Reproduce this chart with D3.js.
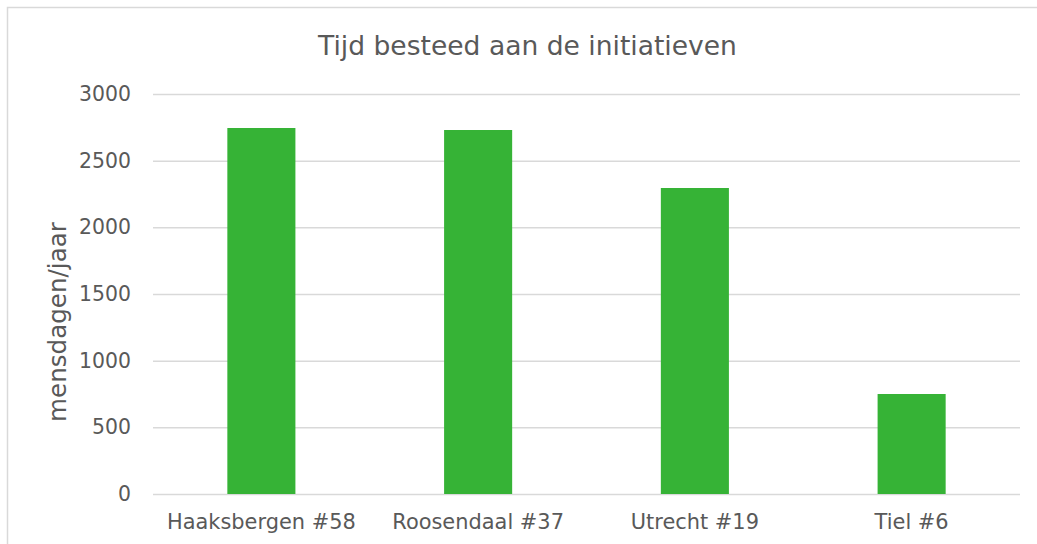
<!DOCTYPE html>
<html><head><meta charset="utf-8">
<script src="https://cdn.jsdelivr.net/npm/d3@7"></script>
<style>body{margin:0;background:#fff;} svg{display:block;}</style>
</head><body>
<script>
const categories = ["Haaksbergen #58", "Roosendaal #37", "Utrecht #19", "Tiel #6"];
const values = [2745, 2730, 2295, 750];
const yTicks = [0, 500, 1000, 1500, 2000, 2500, 3000];
const title = "Tijd besteed aan de initiatieven";
const yLabel = "mensdagen/jaar";

(function () {
const W = 1037, H = 544;
const font = "DejaVu Sans, Verdana, sans-serif";
const textColor = "#595959";
const svg = d3.select("body").append("svg").attr("width", W).attr("height", H);

// fit a font size so that a sample string has the target width
function fitSize(sample, targetWidth) {
  const t = svg.append("text").style("font-family", font).style("font-size", "20px").text(sample);
  const w = t.node().getComputedTextLength();
  t.remove();
  return 20 * targetWidth / w;
}
const tickSize = fitSize("3000", 52);
const catSize = fitSize(categories[0], 189);
const titleSize = fitSize(title, 419);
const ylabSize = fitSize(yLabel, 200);

svg.append("rect").attr("x", 7.5).attr("y", 7.5).attr("width", W + 10).attr("height", H + 10)
  .attr("fill", "#fff").attr("stroke", "#d9d9d9").attr("stroke-width", 1.5);

const pLeft = 153, pRight = 1020, pTop = 94, pBottom = 494;
const x = d3.scaleBand().domain(categories).range([pLeft, pRight]).paddingInner(0.686).paddingOuter(0.343);
const y = d3.scaleLinear().domain([0, 3000]).range([pBottom, pTop]);

const yAxis = svg.append("g").attr("transform", `translate(${pLeft},0)`)
  .call(d3.axisLeft(y).tickValues(yTicks).tickFormat(d3.format("d")).tickSize(-(pRight - pLeft)).tickPadding(22));
yAxis.select(".domain").remove();
yAxis.selectAll(".tick line").attr("stroke", "#d9d9d9").attr("stroke-width", 1.5);
yAxis.selectAll(".tick text").attr("fill", textColor).style("font-family", font).style("font-size", tickSize + "px");

svg.append("g").selectAll("rect").data(categories).join("rect")
  .attr("x", d => x(d)).attr("width", x.bandwidth())
  .attr("y", (d, i) => y(values[i])).attr("height", (d, i) => pBottom - y(values[i]))
  .attr("fill", "#36b336");

const xAxis = svg.append("g").attr("transform", `translate(0,${pBottom})`)
  .call(d3.axisBottom(x).tickSize(0));
xAxis.select(".domain").remove();
xAxis.selectAll(".tick text").attr("fill", textColor).attr("y", 35).attr("dy", null)
  .style("font-family", font).style("font-size", catSize + "px");

svg.append("text").attr("x", 527.5).attr("y", 55).attr("text-anchor", "middle")
  .attr("fill", textColor).style("font-family", font).style("font-size", titleSize + "px").text(title);

svg.append("text").attr("transform", `translate(66,322) rotate(-90)`)
  .attr("text-anchor", "middle").attr("fill", textColor).style("font-family", font)
  .style("font-size", ylabSize + "px").text(yLabel);
})();
</script>
</body></html>
